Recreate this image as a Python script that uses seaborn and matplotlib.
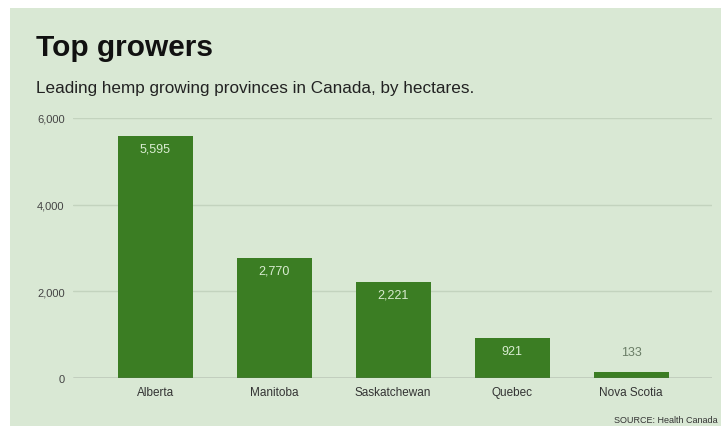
import matplotlib
matplotlib.use("Agg")
import matplotlib.pyplot as plt
import seaborn as sns
import pandas as pd
from matplotlib.patches import Rectangle

provinces = ["Alberta", "Manitoba", "Saskatchewan", "Quebec", "Nova Scotia"]
hectares = [5595, 2770, 2221, 921, 133]
value_labels = ["5,595", "2,770", "2,221", "921", "133"]
y_ticks = [0, 2000, 4000, 6000]
y_tick_labels = ["0", "2,000", "4,000", "6,000"]

df = pd.DataFrame({"province": provinces, "hectares": hectares})

sns.set_theme(style="white")
plt.rcParams["font.family"] = ["Liberation Sans", "DejaVu Sans"]

BG = "#d9e8d4"
BAR = "#3b7d23"

fig = plt.figure(figsize=(7.21, 4.27), dpi=100)
fig.patch.set_facecolor("white")
bg = Rectangle((10 / 721, 0), 1 - 10 / 721, (427 - 9) / 427,
               transform=fig.transFigure, facecolor=BG, edgecolor="none", zorder=-10)
fig.add_artist(bg)

ax = fig.add_axes([73 / 721, (427 - 379) / 427, (712 - 73) / 721, (379 - 119) / 427])
ax.set_zorder(1)
ax.set_facecolor("none")

sns.barplot(data=df, x="province", y="hectares", color=BAR, saturation=1,
            width=0.63, ax=ax, zorder=3, linewidth=0, edgecolor="none")

ax.set_ylim(0, 6000)
ax.set_xlim(-0.69, 4.68)
ax.set_yticks(y_ticks)
ax.set_yticklabels(y_tick_labels)
ax.tick_params(axis="y", length=0, pad=6, labelsize=8, labelcolor="#444444")
ax.tick_params(axis="x", length=0, pad=6, labelsize=8.5, labelcolor="#333333")
ax.set_xlabel("")
ax.set_ylabel("")
for s in ax.spines.values():
    s.set_visible(False)
for yv in y_ticks[1:]:
    ax.axhline(yv, color="#c3d3be", linewidth=1, zorder=1)
ax.axhline(0, color="#666666", linewidth=1, zorder=4)

for i, (v, lab) in enumerate(zip(hectares, value_labels)):
    if v > 500:
        ax.text(i, v - 160, lab, ha="center", va="top", fontsize=9,
                color="#d8ecd0", zorder=5)
    else:
        ax.text(i, v + 320, lab, ha="center", va="bottom", fontsize=9,
                color="#6a7d66", zorder=5)

fig.text(36 / 721, 1 - 48 / 427, "Top growers", fontsize=21.5, fontweight="bold",
         color="#111111", va="center", ha="left")
fig.text(36 / 721, 1 - 88 / 427, "Leading hemp growing provinces in Canada, by hectares.",
         fontsize=12.3, color="#222222", va="center", ha="left")
fig.text(718 / 721, 1 - 421 / 427, "SOURCE: Health Canada", fontsize=6.5,
         color="#333333", va="center", ha="right")

fig.savefig("out.png", dpi=100, facecolor=fig.get_facecolor())
